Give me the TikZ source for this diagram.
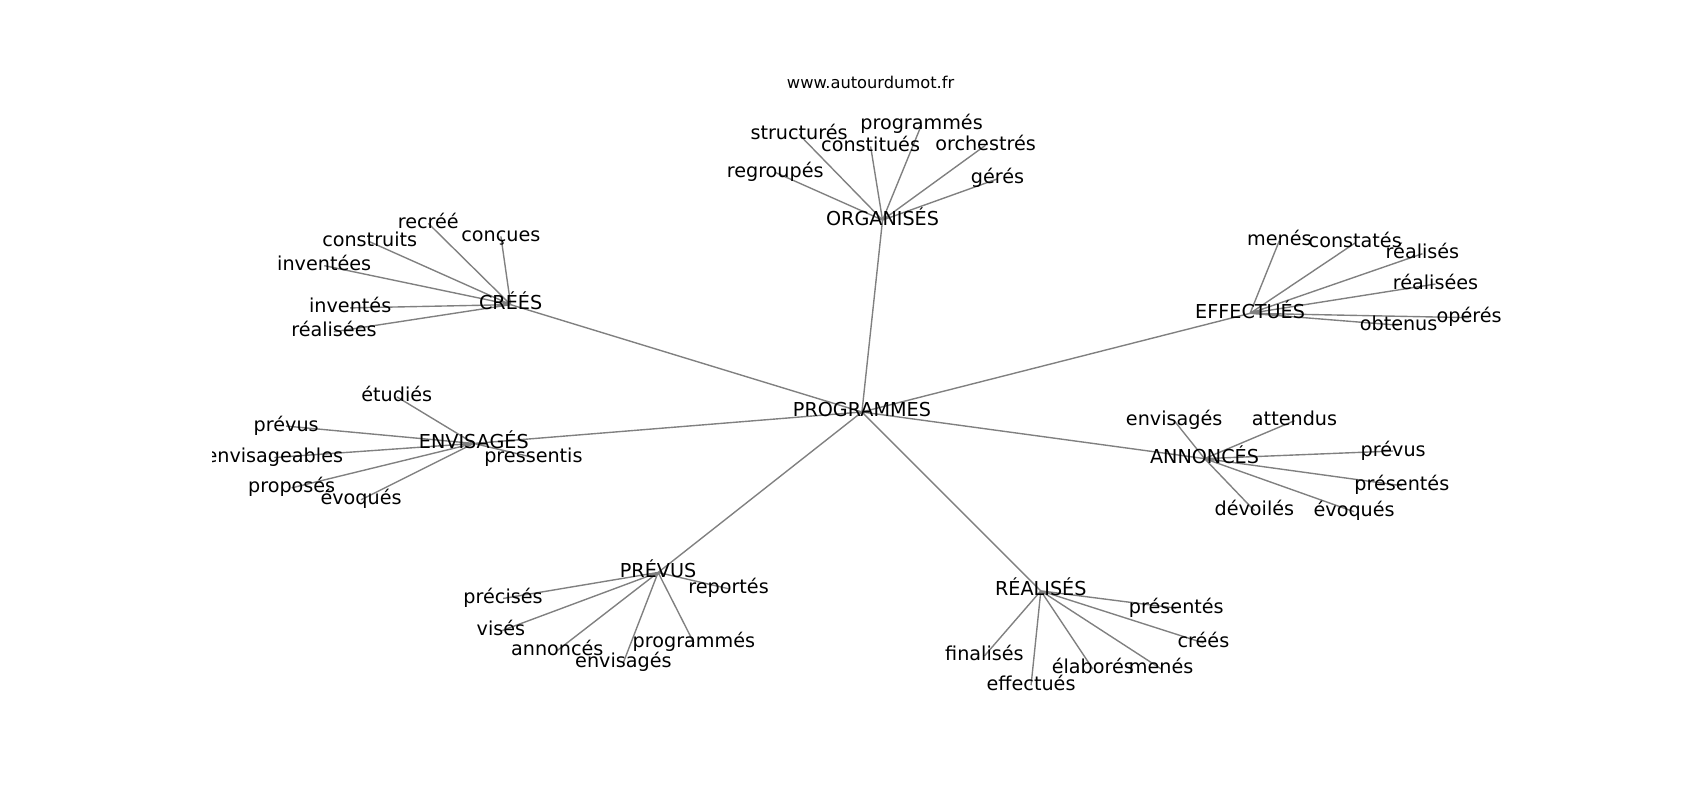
\documentclass[tikz,border=0pt]{standalone}
\usepackage{fontspec}
\setmainfont{DejaVu Sans}
\usetikzlibrary{backgrounds}

\begin{document}
\begin{tikzpicture}[x=1pt, y=-1pt,
    word/.style={inner sep=0pt, font=\fontsize{17.7}{20}\selectfont, text height=13.4pt, text depth=4.2pt},
    edge/.style={draw=gray, line width=1.28pt}]
    \useasboundingbox (0,0) rectangle (1568,738);
    \node[font=\fontsize{15}{18}\selectfont] (site) at (803,76) {www.autourdumot.fr};

    \begin{scope}
    \clip (196,88.5) rectangle (1411,657);
    % centre and hubs
    \node[word] (prog) at (795,380) {PROGRAMMES};
    \node[word] (org) at (814,203) {ORGANISÉS};
    \node[word] (crees) at (471,281) {CRÉÉS};
    \node[word] (envis) at (437,409) {ENVISAGÉS};
    \node[word] (effec) at (1153,289) {EFFECTUÉS};
    \node[word] (annon) at (1111,423) {ANNONCÉS};
    \node[word] (prev) at (607,528) {PRÉVUS};
    \node[word] (real) at (960,545) {RÉALISÉS};

    % ORGANISÉS
    \node[word] (org1) at (737,124) {structurés};
    \node[word] (org2) at (850,115) {programmés};
    \node[word] (org3) at (803,135) {constitués};
    \node[word] (org4) at (909,134) {orchestrés};
    \node[word] (org5) at (715,159) {regroupés};
    \node[word] (org6) at (920,165) {gérés};

    % CRÉÉS
    \node[word] (cre1) at (395,206) {recréé};
    \node[word] (cre2) at (462,218) {conçues};
    \node[word] (cre3) at (341,223) {construits};
    \node[word] (cre4) at (299,245) {inventées};
    \node[word] (cre5) at (323,284) {inventés};
    \node[word] (cre6) at (308,306) {réalisées};

    % ENVISAGÉS
    \node[word] (env1) at (366,366) {étudiés};
    \node[word] (env2) at (264,393) {prévus};
    \node[word] (env3) at (253,422) {envisageables};
    \node[word] (env4) at (269,450) {proposés};
    \node[word] (env5) at (333,461) {évoqués};
    \node[word] (env6) at (492,422) {pressentis};

    % EFFECTUÉS
    \node[word] (eff1) at (1180,222) {menés};
    \node[word] (eff2) at (1250,224) {constatés};
    \node[word] (eff3) at (1312,234) {réalisés};
    \node[word] (eff4) at (1324,262) {réalisées};
    \node[word] (eff5) at (1355,293) {opérés};
    \node[word] (eff6) at (1290,300) {obtenus};

    % ANNONCÉS
    \node[word] (ann1) at (1083,388) {envisagés};
    \node[word] (ann2) at (1194,388) {attendus};
    \node[word] (ann3) at (1285,416) {prévus};
    \node[word] (ann4) at (1293,448) {présentés};
    \node[word] (ann5) at (1249,472) {évoqués};
    \node[word] (ann6) at (1157,471) {dévoilés};

    % PRÉVUS
    \node[word] (pre1) at (672,543) {reportés};
    \node[word] (pre2) at (464,552) {précisés};
    \node[word] (pre3) at (462,582) {visés};
    \node[word] (pre4) at (514,600) {annoncés};
    \node[word] (pre5) at (575,611) {envisagés};
    \node[word] (pre6) at (640,593) {programmés};

    % RÉALISÉS
    \node[word] (rea1) at (1085,561) {présentés};
    \node[word] (rea2) at (1110,593) {créés};
    \node[word] (rea3) at (908,605) {finalisés};
    \node[word] (rea4) at (951,632) {effectués};
    \node[word] (rea5) at (1008,617) {élaborés};
    \node[word] (rea6) at (1071,617) {menés};

    \begin{pgfonlayer}{background}
        \draw[edge] (prog.center) -- (org.center) (prog.center) -- (crees.center)
            (prog.center) -- (envis.center) (prog.center) -- (effec.center)
            (prog.center) -- (annon.center) (prog.center) -- (prev.center)
            (prog.center) -- (real.center);
        \draw[edge] (org.center) -- (org1.center) (org.center) -- (org2.center)
            (org.center) -- (org3.center) (org.center) -- (org4.center)
            (org.center) -- (org5.center) (org.center) -- (org6.center);
        \draw[edge] (crees.center) -- (cre1.center) (crees.center) -- (cre2.center)
            (crees.center) -- (cre3.center) (crees.center) -- (cre4.center)
            (crees.center) -- (cre5.center) (crees.center) -- (cre6.center);
        \draw[edge] (envis.center) -- (env1.center) (envis.center) -- (env2.center)
            (envis.center) -- (env3.center) (envis.center) -- (env4.center)
            (envis.center) -- (env5.center) (envis.center) -- (env6.center);
        \draw[edge] (effec.center) -- (eff1.center) (effec.center) -- (eff2.center)
            (effec.center) -- (eff3.center) (effec.center) -- (eff4.center)
            (effec.center) -- (eff5.center) (effec.center) -- (eff6.center);
        \draw[edge] (annon.center) -- (ann1.center) (annon.center) -- (ann2.center)
            (annon.center) -- (ann3.center) (annon.center) -- (ann4.center)
            (annon.center) -- (ann5.center) (annon.center) -- (ann6.center);
        \draw[edge] (prev.center) -- (pre1.center) (prev.center) -- (pre2.center)
            (prev.center) -- (pre3.center) (prev.center) -- (pre4.center)
            (prev.center) -- (pre5.center) (prev.center) -- (pre6.center);
        \draw[edge] (real.center) -- (rea1.center) (real.center) -- (rea2.center)
            (real.center) -- (rea3.center) (real.center) -- (rea4.center)
            (real.center) -- (rea5.center) (real.center) -- (rea6.center);
    \end{pgfonlayer}
    \end{scope}
\end{tikzpicture}
\end{document}
